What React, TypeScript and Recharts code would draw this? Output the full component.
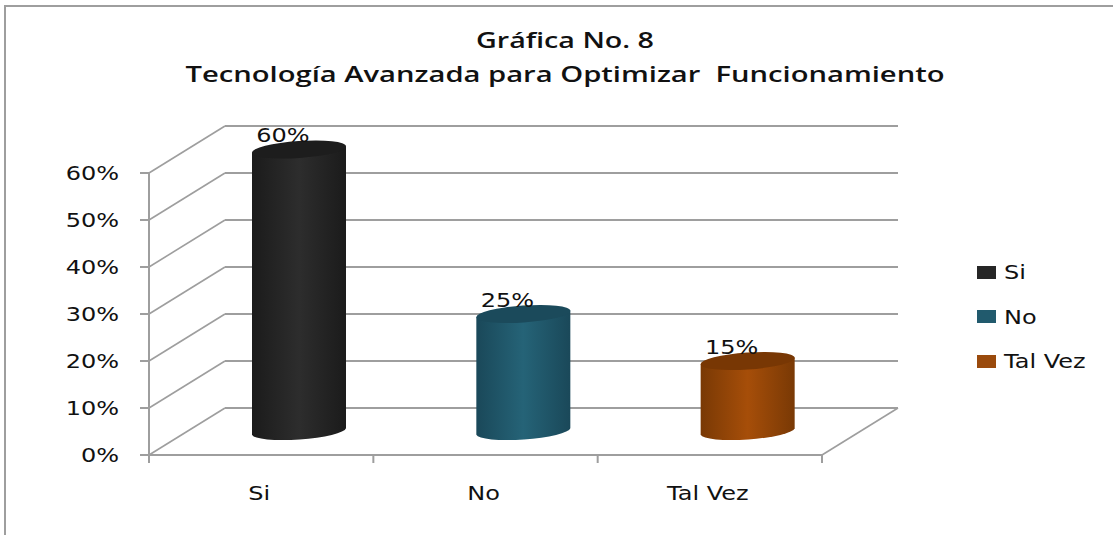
import { BarChart, Bar, XAxis, YAxis, CartesianGrid, Legend, LabelList } from 'recharts';

const categories = ['Si', 'No', 'Tal Vez'];
const values = [60, 25, 15];
const yTicks = [0, 10, 20, 30, 40, 50, 60];
const titleLines = ['Gráfica No. 8', 'Tecnología Avanzada para Optimizar  Funcionamiento'];
const titleWidths = [178, 759];

// edge, centre, top cap
const barColors = [
  ['#1b1b1b', '#2d2d2d', '#1d1d1d'],
  ['#1a4859', '#256377', '#1b4a5b'],
  ['#793905', '#a64e09', '#783704'],
];
const legendColors = ['#262626', '#215a6d', '#9a4a0c'];

const data = categories.map((name, i) => ({ name, value: values[i] }));

const FONT = '"DejaVu Sans", sans-serif';
const AXIS = '#9e9e9e';
const DEPTH_X = 76;
const DEPTH_Y = 47;
const PLOT_BOTTOM = 455;
const BAND = 224.3;
const STRETCH = 1.2; // the source picture is stretched sideways

const Wide = ({ x, y, anchor, children }: any) => (
  <text
    transform={`translate(${x} ${y}) scale(${STRETCH} 1)`}
    textAnchor={anchor}
    fontFamily={FONT}
    fontSize={20}
    fill="#111"
  >
    {children}
  </text>
);

// the chart is a fake 3D one: each grid line has a side part and a back wall part
const gridLine = (props: any) => {
  const { x1, x2, y1 } = props;
  const backY = y1 - DEPTH_Y;
  return (
    <g key={`grid-${y1}`}>
      <line x1={x1} y1={y1} x2={x1 + DEPTH_X} y2={backY} stroke={AXIS} strokeWidth={1.6} />
      <line x1={x1 + DEPTH_X} y1={backY} x2={x2 + DEPTH_X} y2={backY} stroke={AXIS} strokeWidth={2} />
      {Math.abs(y1 - PLOT_BOTTOM) < 1 && (
        <line x1={x2} y1={y1} x2={x2 + DEPTH_X} y2={backY} stroke={AXIS} strokeWidth={1.6} />
      )}
    </g>
  );
};

const Cylinder = (props: any) => {
  const { x, y, width, height, index } = props;
  const cx = x + width / 2 + DEPTH_X / 2;
  const rx = width / 2;
  const ry = 8.5;
  const tilt = 3.3;
  const top = y - DEPTH_Y / 2;
  const base = y + height - DEPTH_Y / 2;
  const body = `M${cx - rx} ${top + tilt} L${cx - rx} ${base + tilt} A${rx + 0.2} ${ry} -4 0 0 ${cx + rx} ${base - tilt} L${cx + rx} ${top - tilt} Z`;
  return (
    <g>
      <path d={body} fill={`url(#cyl-${index})`} />
      <ellipse cx={cx} cy={top} rx={rx + 0.2} ry={ry} fill={barColors[index][2]} transform={`rotate(-4 ${cx} ${top})`} />
    </g>
  );
};

const XTick = (props: any) => {
  const { x, payload, index } = props;
  return (
    <g>
      <line x1={x - BAND / 2} y1={PLOT_BOTTOM} x2={x - BAND / 2} y2={PLOT_BOTTOM + 8} stroke={AXIS} strokeWidth={2} />
      {index === categories.length - 1 && (
        <line x1={x + BAND / 2} y1={PLOT_BOTTOM} x2={x + BAND / 2} y2={PLOT_BOTTOM + 8} stroke={AXIS} strokeWidth={2} />
      )}
      <Wide x={x - 2} y={500} anchor="middle">{payload.value}</Wide>
    </g>
  );
};

const YTick = (props: any) => {
  const { x, y, payload } = props;
  return <Wide x={x} y={y + 7} anchor="end">{`${payload.value}%`}</Wide>;
};

const renderValue = (props: any) => {
  const { x, y, width, value } = props;
  return <Wide x={x + width / 2 + 22} y={y - 31} anchor="middle">{`${value}%`}</Wide>;
};

const LegendBox = () => (
  <div style={{ fontFamily: FONT, fontSize: 20, color: '#111' }}>
    {categories.map((c, i) => (
      <div key={c} style={{ display: 'flex', alignItems: 'center', height: 44.5 }}>
        <span style={{ width: 19, height: 13, background: legendColors[i], marginRight: 8 }} />
        <span style={{ transform: `scaleX(${STRETCH})`, transformOrigin: 'left center', whiteSpace: 'nowrap' }}>{c}</span>
      </div>
    ))}
  </div>
);

export default function App() {
  return (
    <div style={{ position: 'absolute', left: 0, top: 0, width: 1113, height: 535, background: '#fff', overflow: 'hidden' }}>
      <div style={{ position: 'absolute', left: 4, top: 5, width: 1109, height: 530, borderLeft: '2px solid #9e9e9e', borderTop: '2px solid #9e9e9e', boxSizing: 'border-box' }} />
      <BarChart
        width={1113}
        height={535}
        data={data}
        margin={{ top: 173, right: 291, left: 0, bottom: 0 }}
        barSize={94}
      >
        <defs>
          {barColors.map((c, i) => (
            <linearGradient key={i} id={`cyl-${i}`} x1="0" y1="0" x2="1" y2="0">
              <stop offset="0%" stopColor={c[0]} />
              <stop offset="50%" stopColor={c[1]} />
              <stop offset="100%" stopColor={c[0]} />
            </linearGradient>
          ))}
        </defs>
        {titleLines.map((t, i) => (
          <text
            key={t}
            x={565}
            y={48 + i * 34}
            textAnchor="middle"
            textLength={titleWidths[i]}
            lengthAdjust="spacingAndGlyphs"
            fontFamily='"Open Sans", sans-serif'
            fontWeight={600}
            fontSize={22}
            fill="#111"
            xmlSpace="preserve"
          >
            {t}
          </text>
        ))}
        <CartesianGrid horizontal={gridLine} vertical={false} />
        <XAxis dataKey="name" height={80} tickLine={false} tick={<XTick />} axisLine={{ stroke: AXIS, strokeWidth: 2 }} interval={0} />
        <YAxis
          width={149}
          domain={[0, 60]}
          ticks={yTicks}
          tick={<YTick />}
          tickSize={9}
          tickMargin={21}
          tickLine={{ stroke: AXIS, strokeWidth: 2 }}
          axisLine={{ stroke: AXIS, strokeWidth: 2 }}
        />
        <Bar dataKey="value" shape={Cylinder} isAnimationActive={false}>
          <LabelList dataKey="value" content={renderValue} />
        </Bar>
        <Legend
          layout="vertical"
          align="center"
          verticalAlign="middle"
          content={LegendBox}
          wrapperStyle={{ left: 977, top: 250, width: 130 }}
        />
      </BarChart>
    </div>
  );
}
